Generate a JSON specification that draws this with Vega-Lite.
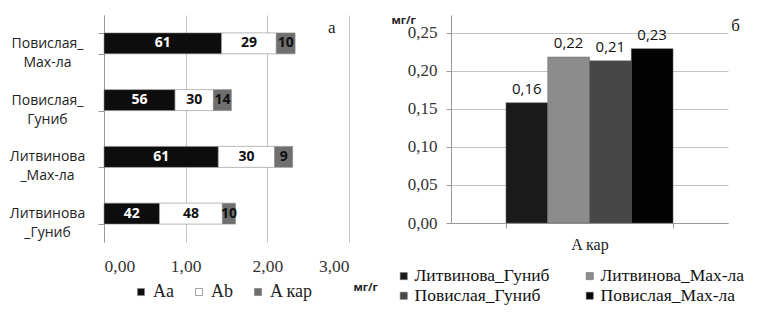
{
  "$schema": "https://vega.github.io/schema/vega-lite/v6.json",
  "padding": {"left": 9, "top": 8, "right": 5, "bottom": 0},
  "background": "white",
  "config": {
    "locale": {"number": {"decimal": ",", "thousands": " ", "grouping": [3], "currency": ["", ""]}},
    "view": {"stroke": null},
    "concat": {"spacing": 13}
  },
  "resolve": {"scale": {"color": "independent"}, "legend": {"color": "independent"}},
  "datasets": {
    "pigments": [
      {"sample": "Повислая_Мах-ла", "comp": "Aa", "ord": 1, "value": 1.44, "pct": 61},
      {"sample": "Повислая_Мах-ла", "comp": "Ab", "ord": 2, "value": 0.67, "pct": 29},
      {"sample": "Повислая_Мах-ла", "comp": "A кар", "ord": 3, "value": 0.23, "pct": 10},
      {"sample": "Повислая_Гуниб", "comp": "Aa", "ord": 1, "value": 0.87, "pct": 56},
      {"sample": "Повислая_Гуниб", "comp": "Ab", "ord": 2, "value": 0.47, "pct": 30},
      {"sample": "Повислая_Гуниб", "comp": "A кар", "ord": 3, "value": 0.22, "pct": 14},
      {"sample": "Литвинова_Мах-ла", "comp": "Aa", "ord": 1, "value": 1.40, "pct": 61},
      {"sample": "Литвинова_Мах-ла", "comp": "Ab", "ord": 2, "value": 0.69, "pct": 30},
      {"sample": "Литвинова_Мах-ла", "comp": "A кар", "ord": 3, "value": 0.22, "pct": 9},
      {"sample": "Литвинова_Гуниб", "comp": "Aa", "ord": 1, "value": 0.68, "pct": 42},
      {"sample": "Литвинова_Гуниб", "comp": "Ab", "ord": 2, "value": 0.77, "pct": 48},
      {"sample": "Литвинова_Гуниб", "comp": "A кар", "ord": 3, "value": 0.16, "pct": 10}
    ],
    "kar": [
      {"cat": "A кар", "sample": "Литвинова_Гуниб", "value": 0.158},
      {"cat": "A кар", "sample": "Литвинова_Мах-ла", "value": 0.218},
      {"cat": "A кар", "sample": "Повислая_Гуниб", "value": 0.213},
      {"cat": "A кар", "sample": "Повислая_Мах-ла", "value": 0.229}
    ]
  },
  "hconcat": [
    {
      "width": 245,
      "height": 227,
      "layer": [
        {
          "data": {"name": "pigments"},
          "transform": [
            {"stack": "value", "groupby": ["sample"], "sort": [{"field": "ord", "order": "ascending"}], "as": ["v0", "v1"]}
          ],
          "mark": {"type": "bar", "stroke": "#8a8a8a", "strokeWidth": 0.6},
          "encoding": {
            "y": {
              "field": "sample", "type": "nominal",
              "sort": ["Повислая_Мах-ла", "Повислая_Гуниб", "Литвинова_Мах-ла", "Литвинова_Гуниб"],
              "scale": {"paddingInner": 0.63, "paddingOuter": 0.315},
              "axis": {
                "title": null, "domainColor": "#999", "tickColor": "#999", "tickBand": "extent", "tickSize": 6,
                "labelAlign": "center", "labelBaseline": "middle", "labelPadding": 51,
                "labelFont": "Open Sans", "labelFontSize": 14, "labelColor": "#222", "labelLineHeight": 19,
                "labelExpr": "datum.value == 'Повислая_Мах-ла' ? ['Повислая_', 'Мах-ла'] : datum.value == 'Повислая_Гуниб' ? ['Повислая_', 'Гуниб'] : datum.value == 'Литвинова_Мах-ла' ? ['Литвинова', '_Мах-ла'] : datum.value == 'Литвинова_Гуниб' ? ['Литвинова', '_Гуниб'] : ''"
              }
            },
            "x": {
              "field": "v0", "type": "quantitative",
              "scale": {"domain": [0, 3]},
              "axis": {
                "title": "мг/г", "values": [0, 1, 2, 3], "format": ".2f",
                "grid": true, "gridColor": "#c4c4c4", "domain": false, "ticks": false,
                "labelFont": "Liberation Serif", "labelFontSize": 17.5, "labelColor": "#333", "labelPadding": 15,
                "titleFont": "Open Sans", "titleFontWeight": "bold", "titleFontSize": 11, "titleColor": "#222",
                "titleAlign": "left", "titleBaseline": "alphabetic", "titleX": 249, "titleY": 48
              }
            },
            "x2": {"field": "v1"},
            "color": {
              "field": "comp", "type": "nominal",
              "scale": {"domain": ["Aa", "Ab", "A кар"], "range": ["#0d0d0d", "#ffffff", "#6f6f6f"]},
              "legend": {
                "orient": "none", "legendX": 28, "legendY": 268, "direction": "horizontal", "title": null,
                "symbolType": "square", "symbolSize": 50, "symbolStrokeColor": "#888", "symbolStrokeWidth": 0.8,
                "labelFont": "Liberation Serif", "labelFontSize": 18, "labelColor": "#222", "columnPadding": 16, "labelOffset": 3
              }
            }
          }
        },
        {
          "data": {"name": "pigments"},
          "transform": [
            {"stack": "value", "groupby": ["sample"], "sort": [{"field": "ord", "order": "ascending"}], "as": ["v0", "v1"]},
            {"calculate": "(datum.v0 + datum.v1) / 2", "as": "mid"}
          ],
          "mark": {"type": "text", "font": "Open Sans", "fontWeight": "bold", "fontSize": 14},
          "encoding": {
            "y": {"field": "sample", "type": "nominal", "sort": ["Повислая_Мах-ла", "Повислая_Гуниб", "Литвинова_Мах-ла", "Литвинова_Гуниб"]},
            "x": {"field": "mid", "type": "quantitative"},
            "text": {"field": "pct", "type": "quantitative"},
            "color": {"condition": {"test": "datum.comp === 'Aa'", "value": "white"}, "value": "#111"}
          }
        },
        {
          "data": {"values": [{"label": "а"}]},
          "mark": {"type": "text", "font": "Liberation Serif", "fontSize": 17, "color": "#222", "baseline": "alphabetic", "dy": -10},
          "encoding": {
            "x": {"datum": 2.79, "type": "quantitative"},
            "y": {"datum": "Повислая_Мах-ла", "type": "nominal"},
            "text": {"field": "label", "type": "nominal"}
          }
        }
      ]
    },
    {
      "width": 277,
      "height": 208,
      "layer": [
        {
          "data": {"name": "kar"},
          "mark": {"type": "bar", "stroke": "#666", "strokeWidth": 0.5},
          "encoding": {
            "x": {
              "field": "cat", "type": "nominal",
              "scale": {"paddingInner": 0, "paddingOuter": 0.329},
              "axis": {"title": null, "labelAngle": 0, "domain": true, "domainColor": "#999", "ticks": true, "tickBand": "extent", "tickSize": 5, "tickColor": "#999",
                       "labelFont": "Liberation Serif", "labelFontSize": 16, "labelColor": "#222", "labelPadding": 8}
            },
            "xOffset": {"field": "sample", "type": "nominal", "sort": ["Литвинова_Гуниб", "Литвинова_Мах-ла", "Повислая_Гуниб", "Повислая_Мах-ла"], "scale": {"paddingInner": 0, "paddingOuter": 0}},
            "y": {
              "field": "value", "type": "quantitative",
              "scale": {"domain": [0, 0.2732], "nice": false},
              "axis": {
                "title": "мг/г", "titleAngle": 0, "titleAlign": "left", "titleBaseline": "alphabetic", "titleX": -60, "titleY": 8,
                "titleFont": "Open Sans", "titleFontWeight": "bold", "titleFontSize": 11, "titleColor": "#222",
                "values": [0, 0.05, 0.1, 0.15, 0.2, 0.25], "format": ".2f",
                "grid": true, "gridColor": "#c4c4c4", "domain": true, "domainColor": "#999", "ticks": true, "tickSize": 5, "tickColor": "#999",
                "labelFont": "Liberation Serif", "labelFontSize": 17, "labelColor": "#333", "labelPadding": 9
              }
            },
            "color": {
              "field": "sample", "type": "nominal",
              "scale": {"domain": ["Литвинова_Гуниб", "Литвинова_Мах-ла", "Повислая_Гуниб", "Повислая_Мах-ла"], "range": ["#1a1a1a", "#8c8c8c", "#474747", "#030303"]},
              "legend": {
                "orient": "none", "legendX": -56, "legendY": 252, "columns": 2, "direction": "horizontal", "title": null,
                "symbolType": "square", "symbolSize": 50, "symbolStrokeColor": "#666", "symbolStrokeWidth": 0.6,
                "labelFont": "Liberation Serif", "labelFontSize": 17.5, "labelColor": "#111", "labelLimit": 300,
                "columnPadding": 31, "rowPadding": 1, "labelOffset": 2
              }
            }
          }
        },
        {
          "data": {"name": "kar"},
          "mark": {"type": "text", "baseline": "bottom", "dy": -6, "font": "Open Sans", "fontSize": 15, "color": "#111"},
          "encoding": {
            "x": {"field": "cat", "type": "nominal"},
            "xOffset": {"field": "sample", "type": "nominal", "sort": ["Литвинова_Гуниб", "Литвинова_Мах-ла", "Повислая_Гуниб", "Повислая_Мах-ла"]},
            "y": {"field": "value", "type": "quantitative"},
            "text": {"field": "value", "type": "quantitative", "format": ".2f"}
          }
        },
        {
          "data": {"values": [{"label": "б"}]},
          "mark": {"type": "text", "font": "Liberation Serif", "fontSize": 17, "color": "#222", "baseline": "alphabetic", "dx": 146, "dy": -2},
          "encoding": {
            "x": {"datum": "A кар", "type": "nominal"},
            "y": {"datum": 0.25, "type": "quantitative"},
            "text": {"field": "label", "type": "nominal"}
          }
        }
      ]
    }
  ]
}
